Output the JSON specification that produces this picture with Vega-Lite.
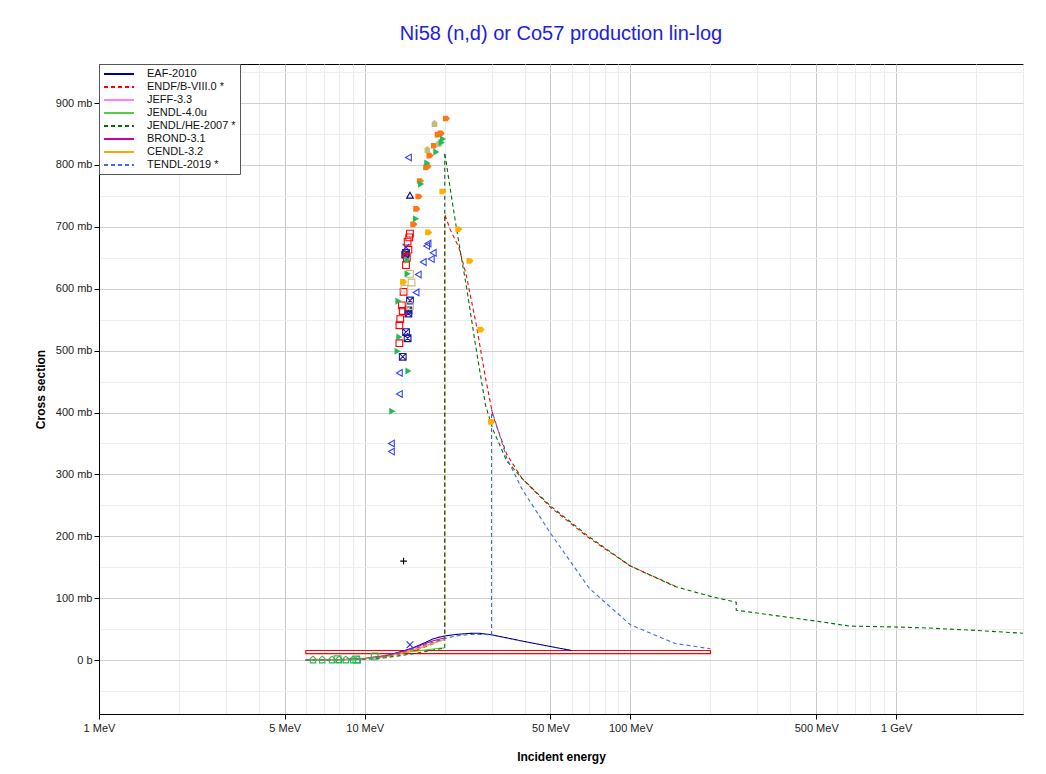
{
  "$schema": "https://vega.github.io/schema/vega-lite/v6.json",
  "autosize": "none",
  "width": 924,
  "height": 650,
  "padding": {"left": 99, "top": 64, "right": 23, "bottom": 60},
  "background": "white",
  "title": {"text": "Ni58 (n,d) or Co57 production lin-log", "color": "#2020dd", "fontSize": 20, "fontWeight": "normal", "font": "Liberation Sans", "offset": 20, "anchor": "middle"},
  "config": {
    "view": {"stroke": "#000", "strokeWidth": 1},
    "axis": {"labelFont": "Liberation Sans", "titleFont": "Liberation Sans", "labelFontSize": 11, "titleFontSize": 12, "titleFontWeight": "bold", "labelColor": "#222", "titleColor": "#000", "domainColor": "#000", "tickColor": "#000", "labelOverlap": false, "labelFlush": false}
  },
  "datasets": {
    "lines": [
      {"lib": "EAF-2010", "E": 6, "xs": 0, "i": 1},
      {"lib": "EAF-2010", "E": 7, "xs": 0.3, "i": 2},
      {"lib": "EAF-2010", "E": 8, "xs": 0.8, "i": 3},
      {"lib": "EAF-2010", "E": 9, "xs": 1.5, "i": 4},
      {"lib": "EAF-2010", "E": 10, "xs": 2.5, "i": 5},
      {"lib": "EAF-2010", "E": 11, "xs": 4.5, "i": 6},
      {"lib": "EAF-2010", "E": 12, "xs": 7, "i": 7},
      {"lib": "EAF-2010", "E": 13, "xs": 11, "i": 8},
      {"lib": "EAF-2010", "E": 14, "xs": 15, "i": 9},
      {"lib": "EAF-2010", "E": 15, "xs": 19, "i": 10},
      {"lib": "EAF-2010", "E": 16, "xs": 24, "i": 11},
      {"lib": "EAF-2010", "E": 17, "xs": 29, "i": 12},
      {"lib": "EAF-2010", "E": 18, "xs": 34, "i": 13},
      {"lib": "EAF-2010", "E": 19, "xs": 37, "i": 14},
      {"lib": "EAF-2010", "E": 20, "xs": 39, "i": 15},
      {"lib": "EAF-2010", "E": 22, "xs": 41.5, "i": 16},
      {"lib": "EAF-2010", "E": 25, "xs": 43.3, "i": 17},
      {"lib": "EAF-2010", "E": 27, "xs": 43.4, "i": 18},
      {"lib": "EAF-2010", "E": 30, "xs": 41, "i": 19},
      {"lib": "EAF-2010", "E": 40, "xs": 30, "i": 20},
      {"lib": "EAF-2010", "E": 50, "xs": 22, "i": 21},
      {"lib": "EAF-2010", "E": 60, "xs": 15.6, "i": 22},
      {"lib": "ENDF/B-VIII.0 *", "E": 6, "xs": 0, "i": 30},
      {"lib": "ENDF/B-VIII.0 *", "E": 8, "xs": 0.4, "i": 31},
      {"lib": "ENDF/B-VIII.0 *", "E": 10, "xs": 1.5, "i": 32},
      {"lib": "ENDF/B-VIII.0 *", "E": 12, "xs": 5, "i": 33},
      {"lib": "ENDF/B-VIII.0 *", "E": 14, "xs": 11, "i": 34},
      {"lib": "ENDF/B-VIII.0 *", "E": 16, "xs": 18, "i": 35},
      {"lib": "ENDF/B-VIII.0 *", "E": 18, "xs": 26, "i": 36},
      {"lib": "ENDF/B-VIII.0 *", "E": 20, "xs": 35, "i": 37},
      {"lib": "ENDF/B-VIII.0 *", "E": 20, "xs": 720, "i": 38},
      {"lib": "ENDF/B-VIII.0 *", "E": 21, "xs": 695, "i": 39},
      {"lib": "ENDF/B-VIII.0 *", "E": 22.6, "xs": 667, "i": 40},
      {"lib": "ENDF/B-VIII.0 *", "E": 24.1, "xs": 622, "i": 41},
      {"lib": "ENDF/B-VIII.0 *", "E": 26.2, "xs": 545, "i": 42},
      {"lib": "ENDF/B-VIII.0 *", "E": 28.5, "xs": 455, "i": 43},
      {"lib": "ENDF/B-VIII.0 *", "E": 30.4, "xs": 394, "i": 44},
      {"lib": "ENDF/B-VIII.0 *", "E": 34.2, "xs": 333, "i": 45},
      {"lib": "ENDF/B-VIII.0 *", "E": 39, "xs": 294, "i": 46},
      {"lib": "ENDF/B-VIII.0 *", "E": 50, "xs": 247, "i": 47},
      {"lib": "ENDF/B-VIII.0 *", "E": 70, "xs": 197, "i": 48},
      {"lib": "ENDF/B-VIII.0 *", "E": 100, "xs": 152, "i": 49},
      {"lib": "ENDF/B-VIII.0 *", "E": 150, "xs": 118, "i": 50},
      {"lib": "JEFF-3.3", "E": 6, "xs": 0, "i": 60},
      {"lib": "JEFF-3.3", "E": 8, "xs": 0.5, "i": 61},
      {"lib": "JEFF-3.3", "E": 10, "xs": 2, "i": 62},
      {"lib": "JEFF-3.3", "E": 12, "xs": 6, "i": 63},
      {"lib": "JEFF-3.3", "E": 14, "xs": 13, "i": 64},
      {"lib": "JEFF-3.3", "E": 16, "xs": 20, "i": 65},
      {"lib": "JEFF-3.3", "E": 18, "xs": 27, "i": 66},
      {"lib": "JEFF-3.3", "E": 20, "xs": 33, "i": 67},
      {"lib": "JENDL-4.0u", "E": 6, "xs": 0, "i": 70},
      {"lib": "JENDL-4.0u", "E": 8, "xs": 0.5, "i": 71},
      {"lib": "JENDL-4.0u", "E": 9.5, "xs": 2, "i": 72},
      {"lib": "JENDL-4.0u", "E": 10.7, "xs": 5, "i": 73},
      {"lib": "JENDL-4.0u", "E": 12, "xs": 8, "i": 74},
      {"lib": "JENDL-4.0u", "E": 14, "xs": 12, "i": 75},
      {"lib": "JENDL-4.0u", "E": 16, "xs": 15, "i": 76},
      {"lib": "JENDL-4.0u", "E": 18, "xs": 18, "i": 77},
      {"lib": "JENDL-4.0u", "E": 20, "xs": 20, "i": 78},
      {"lib": "JENDL/HE-2007 *", "E": 6, "xs": 0, "i": 80},
      {"lib": "JENDL/HE-2007 *", "E": 8, "xs": 0.3, "i": 81},
      {"lib": "JENDL/HE-2007 *", "E": 10, "xs": 1.5, "i": 82},
      {"lib": "JENDL/HE-2007 *", "E": 12, "xs": 4, "i": 83},
      {"lib": "JENDL/HE-2007 *", "E": 14, "xs": 8, "i": 84},
      {"lib": "JENDL/HE-2007 *", "E": 16, "xs": 12, "i": 85},
      {"lib": "JENDL/HE-2007 *", "E": 18, "xs": 16, "i": 86},
      {"lib": "JENDL/HE-2007 *", "E": 20, "xs": 19.5, "i": 87},
      {"lib": "JENDL/HE-2007 *", "E": 20, "xs": 820, "i": 88},
      {"lib": "JENDL/HE-2007 *", "E": 21, "xs": 760, "i": 89},
      {"lib": "JENDL/HE-2007 *", "E": 22, "xs": 705, "i": 90},
      {"lib": "JENDL/HE-2007 *", "E": 23, "xs": 655, "i": 91},
      {"lib": "JENDL/HE-2007 *", "E": 24.1, "xs": 605, "i": 92},
      {"lib": "JENDL/HE-2007 *", "E": 26.2, "xs": 505, "i": 93},
      {"lib": "JENDL/HE-2007 *", "E": 28.5, "xs": 411, "i": 94},
      {"lib": "JENDL/HE-2007 *", "E": 30.4, "xs": 372, "i": 95},
      {"lib": "JENDL/HE-2007 *", "E": 34.2, "xs": 322, "i": 96},
      {"lib": "JENDL/HE-2007 *", "E": 39, "xs": 294, "i": 97},
      {"lib": "JENDL/HE-2007 *", "E": 50, "xs": 249, "i": 98},
      {"lib": "JENDL/HE-2007 *", "E": 70, "xs": 199, "i": 99},
      {"lib": "JENDL/HE-2007 *", "E": 100, "xs": 152, "i": 100},
      {"lib": "JENDL/HE-2007 *", "E": 147, "xs": 119, "i": 101},
      {"lib": "JENDL/HE-2007 *", "E": 200, "xs": 103, "i": 102},
      {"lib": "JENDL/HE-2007 *", "E": 250, "xs": 93.5, "i": 103},
      {"lib": "JENDL/HE-2007 *", "E": 250, "xs": 80.7, "i": 104},
      {"lib": "JENDL/HE-2007 *", "E": 500, "xs": 63, "i": 105},
      {"lib": "JENDL/HE-2007 *", "E": 670, "xs": 55, "i": 106},
      {"lib": "JENDL/HE-2007 *", "E": 1000, "xs": 53.5, "i": 107},
      {"lib": "JENDL/HE-2007 *", "E": 1300, "xs": 52, "i": 108},
      {"lib": "JENDL/HE-2007 *", "E": 2000, "xs": 48, "i": 109},
      {"lib": "JENDL/HE-2007 *", "E": 3000, "xs": 43.5, "i": 110},
      {"lib": "BROND-3.1", "E": 6, "xs": 0, "i": 120},
      {"lib": "BROND-3.1", "E": 8, "xs": 0.8, "i": 121},
      {"lib": "BROND-3.1", "E": 10, "xs": 2.5, "i": 122},
      {"lib": "BROND-3.1", "E": 12, "xs": 7, "i": 123},
      {"lib": "BROND-3.1", "E": 14, "xs": 14.5, "i": 124},
      {"lib": "BROND-3.1", "E": 16, "xs": 23, "i": 125},
      {"lib": "BROND-3.1", "E": 18, "xs": 31, "i": 126},
      {"lib": "BROND-3.1", "E": 20, "xs": 36, "i": 127},
      {"lib": "CENDL-3.2", "E": 6, "xs": 0, "i": 130},
      {"lib": "CENDL-3.2", "E": 8, "xs": 0.5, "i": 131},
      {"lib": "CENDL-3.2", "E": 10, "xs": 2, "i": 132},
      {"lib": "CENDL-3.2", "E": 12, "xs": 5.5, "i": 133},
      {"lib": "CENDL-3.2", "E": 14, "xs": 12, "i": 134},
      {"lib": "CENDL-3.2", "E": 16, "xs": 19, "i": 135},
      {"lib": "CENDL-3.2", "E": 18, "xs": 27, "i": 136},
      {"lib": "CENDL-3.2", "E": 20, "xs": 34, "i": 137},
      {"lib": "TENDL-2019 *", "E": 6, "xs": 0, "i": 140},
      {"lib": "TENDL-2019 *", "E": 8, "xs": 0.5, "i": 141},
      {"lib": "TENDL-2019 *", "E": 10, "xs": 2, "i": 142},
      {"lib": "TENDL-2019 *", "E": 12, "xs": 6, "i": 143},
      {"lib": "TENDL-2019 *", "E": 14, "xs": 13, "i": 144},
      {"lib": "TENDL-2019 *", "E": 16, "xs": 21, "i": 145},
      {"lib": "TENDL-2019 *", "E": 18, "xs": 29, "i": 146},
      {"lib": "TENDL-2019 *", "E": 20, "xs": 35, "i": 147},
      {"lib": "TENDL-2019 *", "E": 22, "xs": 39, "i": 148},
      {"lib": "TENDL-2019 *", "E": 25, "xs": 41.5, "i": 149},
      {"lib": "TENDL-2019 *", "E": 28, "xs": 41.5, "i": 150},
      {"lib": "TENDL-2019 *", "E": 30, "xs": 40.6, "i": 151},
      {"lib": "TENDL-2019 *", "E": 30, "xs": 405, "i": 152},
      {"lib": "TENDL-2019 *", "E": 34.2, "xs": 327, "i": 153},
      {"lib": "TENDL-2019 *", "E": 39, "xs": 277, "i": 154},
      {"lib": "TENDL-2019 *", "E": 50, "xs": 205, "i": 155},
      {"lib": "TENDL-2019 *", "E": 70, "xs": 116, "i": 156},
      {"lib": "TENDL-2019 *", "E": 100, "xs": 57, "i": 157},
      {"lib": "TENDL-2019 *", "E": 147, "xs": 27, "i": 158},
      {"lib": "TENDL-2019 *", "E": 200, "xs": 18.4, "i": 159}
    ],
    "box": [
      {"E": 6, "xs": 15.6, "i": 1},
      {"E": 200, "xs": 15.6, "i": 2},
      {"E": 200, "xs": 10.5, "i": 3},
      {"E": 6, "xs": 10.5, "i": 4},
      {"E": 6, "xs": 15.6, "i": 5}
    ],
    "pf": [
      {"s": "o", "E": 20.3, "xs": 875}, {"s": "o", "E": 18.9, "xs": 849}, {"s": "o", "E": 19.4, "xs": 851},
      {"s": "o", "E": 18.3, "xs": 831}, {"s": "o", "E": 17.6, "xs": 815}, {"s": "o", "E": 17.1, "xs": 796},
      {"s": "o", "E": 17.3, "xs": 798}, {"s": "o", "E": 16.2, "xs": 774}, {"s": "o", "E": 16.0, "xs": 749},
      {"s": "o", "E": 15.7, "xs": 729}, {"s": "o", "E": 15.3, "xs": 704},
      {"s": "a", "E": 19.7, "xs": 757}, {"s": "a", "E": 17.4, "xs": 691}, {"s": "a", "E": 22.6, "xs": 696},
      {"s": "a", "E": 24.9, "xs": 645}, {"s": "a", "E": 27.4, "xs": 534}, {"s": "a", "E": 30, "xs": 385},
      {"s": "a", "E": 14.0, "xs": 611},
      {"s": "k", "E": 18.3, "xs": 867}, {"s": "k", "E": 17.2, "xs": 825}, {"s": "k", "E": 19.0, "xs": 835},
      {"s": "g", "E": 19.5, "xs": 836}, {"s": "g", "E": 19.7, "xs": 842}, {"s": "g", "E": 18.6, "xs": 821},
      {"s": "g", "E": 17.2, "xs": 803}, {"s": "g", "E": 16.3, "xs": 769}, {"s": "g", "E": 15.6, "xs": 713},
      {"s": "g", "E": 14.5, "xs": 624}, {"s": "g", "E": 14.5, "xs": 646}, {"s": "g", "E": 13.4, "xs": 580},
      {"s": "g", "E": 13.5, "xs": 522}, {"s": "g", "E": 13.3, "xs": 499}, {"s": "g", "E": 14.6, "xs": 467},
      {"s": "g", "E": 12.7, "xs": 402}
    ],
    "po": [
      {"s": "b", "E": 14.6, "xs": 812}, {"s": "b", "E": 17.3, "xs": 673}, {"s": "b", "E": 17.1, "xs": 669},
      {"s": "b", "E": 18.1, "xs": 658}, {"s": "b", "E": 17.8, "xs": 648}, {"s": "b", "E": 16.6, "xs": 643},
      {"s": "b", "E": 15.9, "xs": 623}, {"s": "b", "E": 15.6, "xs": 594}, {"s": "b", "E": 13.5, "xs": 464},
      {"s": "b", "E": 13.5, "xs": 430}, {"s": "b", "E": 12.6, "xs": 350}, {"s": "b", "E": 12.6, "xs": 337},
      {"s": "n", "E": 14.8, "xs": 751},
      {"s": "x", "E": 14.3, "xs": 658}, {"s": "x", "E": 14.8, "xs": 581}, {"s": "x", "E": 14.6, "xs": 565},
      {"s": "x", "E": 14.6, "xs": 560}, {"s": "x", "E": 14.3, "xs": 530}, {"s": "x", "E": 14.5, "xs": 520},
      {"s": "x", "E": 13.9, "xs": 490}, {"s": "x", "E": 14.2, "xs": 655},
      {"s": "r", "E": 14.8, "xs": 689}, {"s": "r", "E": 14.5, "xs": 676}, {"s": "r", "E": 14.6, "xs": 663},
      {"s": "r", "E": 14.3, "xs": 638}, {"s": "r", "E": 14.0, "xs": 595}, {"s": "r", "E": 13.8, "xs": 573},
      {"s": "r", "E": 13.9, "xs": 564}, {"s": "r", "E": 13.6, "xs": 551}, {"s": "r", "E": 13.5, "xs": 541},
      {"s": "r", "E": 13.5, "xs": 512}, {"s": "r", "E": 14.7, "xs": 683}, {"s": "r", "E": 14.4, "xs": 650},
      {"s": "p", "E": 14.0, "xs": 160},
      {"s": "bx", "E": 14.8, "xs": 25}, {"s": "bx", "E": 14.3, "xs": 667},
      {"s": "gh", "E": 6.39, "xs": 1}, {"s": "gh", "E": 6.92, "xs": 1}, {"s": "gh", "E": 7.53, "xs": 1},
      {"s": "gh", "E": 8.0, "xs": 1}, {"s": "gh", "E": 8.49, "xs": 1}, {"s": "gh", "E": 9.04, "xs": 1},
      {"s": "gh", "E": 9.42, "xs": 1},
      {"s": "gs", "E": 10.9, "xs": 6}, {"s": "gs", "E": 9.3, "xs": 1}, {"s": "gs", "E": 7.9, "xs": 1.5},
      {"s": "ks", "E": 14.8, "xs": 624}, {"s": "ks", "E": 14.8, "xs": 572}, {"s": "ks", "E": 15.0, "xs": 610},
      {"s": "ks", "E": 14.1, "xs": 600}
    ]
  },
  "encoding": {
    "x": {
      "field": "E", "type": "quantitative",
      "scale": {"type": "log", "domain": [1, 3000], "nice": false},
      "axis": {
        "title": "Incident energy", "titlePadding": 18,
        "values": [1,2,3,4,5,6,7,8,9,10,20,30,40,50,60,70,80,90,100,200,300,400,500,600,700,800,900,1000,2000,3000],
        "labelExpr": "indexof([1,5,10,50,100,500,1000], datum.value) >= 0 ? (datum.value >= 1000 ? (datum.value/1000) + ' GeV' : datum.value + ' MeV') : ''",
        "gridColor": {"condition": {"test": "indexof([1,5,10,50,100,500,1000], datum.value) >= 0", "value": "#c8c8c8"}, "value": "#ececec"},
        "tickSize": {"condition": {"test": "indexof([1,5,10,50,100,500,1000], datum.value) >= 0", "value": 5}, "value": 0},
        "labelPadding": 3
      }
    },
    "y": {
      "field": "xs", "type": "quantitative",
      "scale": {"domain": [-87, 963], "nice": false, "zero": false},
      "axis": {
        "title": "Cross section", "titlePadding": 8,
        "values": [-50,0,50,100,150,200,250,300,350,400,450,500,550,600,650,700,750,800,850,900,950],
        "labelExpr": "(datum.value % 100 == 0 && datum.value >= 0) ? (datum.value == 0 ? '0 b' : datum.value + ' mb') : ''",
        "gridColor": {"condition": {"test": "datum.value % 100 == 0", "value": "#d0d0d0"}, "value": "#eeeeee"},
        "tickSize": {"condition": {"test": "datum.value % 100 == 0", "value": 5}, "value": 0},
        "labelPadding": 2
      }
    }
  },
  "layer": [
    {
      "data": {"name": "box"},
      "mark": {"type": "line", "color": "#ff0000", "strokeWidth": 1.2},
      "encoding": {"order": {"field": "i", "type": "quantitative"}}
    },
    {
      "data": {"name": "lines"},
      "mark": {"type": "line", "strokeWidth": 1.1},
      "encoding": {
        "order": {"field": "i", "type": "quantitative"},
        "color": {
          "field": "lib", "type": "nominal",
          "scale": {
            "domain": ["EAF-2010","ENDF/B-VIII.0 *","JEFF-3.3","JENDL-4.0u","JENDL/HE-2007 *","BROND-3.1","CENDL-3.2","TENDL-2019 *"],
            "range": ["#000099","#ff0000","#ff80ff","#55cc44","#007000","#c8009e","#ffa500","#4169e1"]
          },
          "legend": {"orient": "top-left", "offset": 0, "title": null, "padding": 4, "strokeColor": "#555", "fillColor": "#ffffff", "labelFontSize": 11, "labelFont": "Liberation Sans", "labelColor": "#111", "symbolType": "M-1,0H5", "symbolSize": 100, "symbolStrokeWidth": 2, "labelOffset": 32, "rowPadding": 2}
        },
        "strokeDash": {
          "field": "lib", "type": "nominal",
          "scale": {
            "domain": ["EAF-2010","ENDF/B-VIII.0 *","JEFF-3.3","JENDL-4.0u","JENDL/HE-2007 *","BROND-3.1","CENDL-3.2","TENDL-2019 *"],
            "range": [[1,0],[4,3],[1,0],[1,0],[4,3],[1,0],[1,0],[4,3]]
          },
          "legend": {"orient": "top-left", "offset": 0, "title": null, "padding": 4, "strokeColor": "#555", "fillColor": "#ffffff", "labelFontSize": 11, "labelFont": "Liberation Sans", "labelColor": "#111", "symbolType": "M-1,0H5", "symbolSize": 100, "symbolStrokeWidth": 2, "labelOffset": 32, "rowPadding": 2}
        }
      }
    },
    {
      "data": {"name": "po"},
      "mark": {"type": "point", "filled": false, "strokeWidth": 1.1, "size": 45, "opacity": 1},
      "encoding": {
        "color": {
          "field": "s", "type": "nominal", "legend": null,
          "scale": {"domain": ["b","n","x","r","p","bx","gh","gs","ks"], "range": ["#3344ff","#000088","#1a1aa0","#ff0000","#000000","#2233cc","#22bb55","#22bb55","#c8bb7a"]}
        },
        "shape": {
          "field": "s", "type": "nominal", "legend": null,
          "scale": {"domain": ["b","n","x","r","p","bx","gh","gs","ks"], "range": ["triangle-left","triangle-up","M-1,-1L1,-1L1,1L-1,1Z M-1,-1L1,1 M1,-1L-1,1","square","M-1,0H1M0,-1V1","M-1,-1L1,1M1,-1L-1,1","M-0.8,1L-0.8,-0.3L0,-1L0.8,-0.3L0.8,1Z","square","square"]}
        }
      }
    },
    {
      "data": {"name": "pf"},
      "mark": {"type": "point", "filled": true, "size": 50, "opacity": 1},
      "encoding": {
        "color": {
          "field": "s", "type": "nominal", "legend": null,
          "scale": {"domain": ["o","a","k","g"], "range": ["#ff7711","#ffb000","#c8bb7a","#22bb55"]}
        },
        "shape": {
          "field": "s", "type": "nominal", "legend": null,
          "scale": {"domain": ["o","a","k","g"], "range": ["M-1,-0.8L0.3,-0.8L1,0L0.3,0.8L-1,0.8Z","M-1,-0.8L0.3,-0.8L1,0L0.3,0.8L-1,0.8Z","M-0.8,1L-0.8,-0.3L0,-1L0.8,-0.3L0.8,1Z","triangle-right"]}
        }
      }
    }
  ],
  "resolve": {"scale": {"color": "independent", "shape": "independent", "strokeDash": "independent"}}
}
